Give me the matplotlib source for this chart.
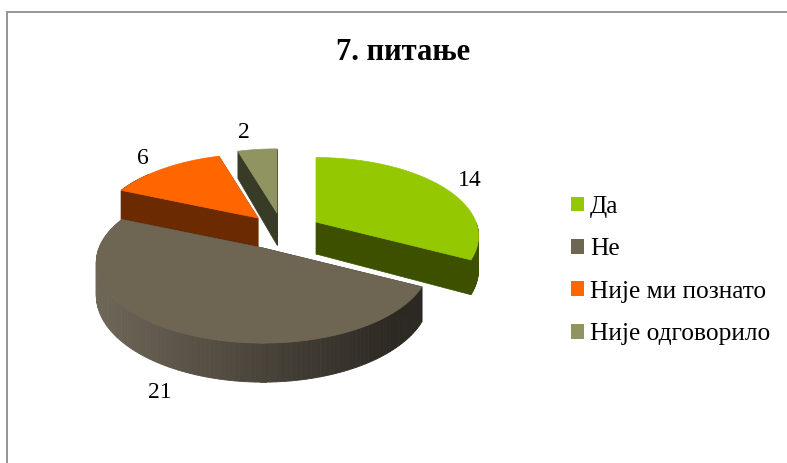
import numpy as np
import matplotlib
matplotlib.use('Agg')
import matplotlib.pyplot as plt
from matplotlib.patches import Polygon, Patch

TITLE = '7. питање'
categories = ['Да', 'Не', 'Није ми познато', 'Није одговорило']
values = [14, 21, 6, 2]
top_colors = ['#94c800', '#6f6553', '#ff6600', '#8f9460']
wall_colors = ['#3d5000', '#2f2a24', '#6b2a00', '#383c26']

plt.rcParams['font.family'] = ['Liberation Serif', 'DejaVu Serif']

W, H = 787, 463
R = 164.0
FLAT = 78.0   # vertical radius of the pie before perspective
PERSP = 0.18
DEPTH = 32.0

# where each slice's point lands in the picture (slices are pulled apart)
apex = [(316, 222), (263, 248), (258, 218), (277, 213)]
scale = [0.975, 1.0, 0.97, 0.97]

fig = plt.figure(figsize=(W / 100, H / 100), dpi=100)
ax = fig.add_axes([0, 0, 1, 1])
ax.set_xlim(0, W)
ax.set_ylim(H, 0)
ax.axis('off')


def rim(t, cx, cy, k):
    # t in degrees, clockwise from the far side of the pie
    s, c = np.sin(np.radians(t)), np.cos(np.radians(t))
    p = 1 / (1 + PERSP * c)
    return cx + k * R * s * p, cy - k * FLAT * c * p, DEPTH * p


def shade(a, b, t):
    a = np.array(matplotlib.colors.to_rgb(a))
    b = np.array(matplotlib.colors.to_rgb(b))
    return a + (b - a) * t


edges = np.concatenate([[0], np.cumsum(values)]) / sum(values) * 360


def draw_slice(i):
    t0, t1 = edges[i], edges[i + 1]
    cx, cy = apex[i]
    ts = np.linspace(t0, t1, 120)
    xs, ys, ds = rim(ts, cx, cy, scale[i])

    # cut faces
    for k in (0, -1):
        ax.add_patch(Polygon([(cx, cy), (xs[k], ys[k]), (xs[k], ys[k] + ds[k]),
                              (cx, cy + DEPTH)],
                             fc=wall_colors[i], ec=wall_colors[i], lw=0.5))

    # outer wall, the big slice gets a left-right gradient
    for j in range(len(ts) - 1):
        if not 90 <= ts[j] <= 310:
            continue
        col = wall_colors[i]
        if i == 1:
            col = shade('#6e6658', '#2c2822', np.clip((xs[j] - 97) / 300, 0, 1))
        ax.add_patch(Polygon([(xs[j], ys[j]), (xs[j + 1], ys[j + 1]),
                              (xs[j + 1], ys[j + 1] + ds[j + 1]),
                              (xs[j], ys[j] + ds[j])],
                             fc=col, ec=col, lw=0.6))

    # top face
    pts = [(cx, cy)] + list(zip(xs, ys))
    ax.add_patch(Polygon(pts, fc=top_colors[i], ec=top_colors[i], lw=0.5))


for i in [3, 2, 0, 1]:
    draw_slice(i)

# chart frame, only top and left are inside the crop
ax.plot([6.5, 6.5, W], [H, 11.5, 11.5], color='#8c8c8c', lw=1.3,
        solid_joinstyle='miter')

ax.text(403, 53, TITLE, ha='center', va='center', fontsize=22,
        fontweight='bold', color='black')

label_pos = [(470, 181), (160, 393), (143, 158), (244, 132)]
for v, (lx, ly) in zip(values, label_pos):
    ax.text(lx, ly, str(v), ha='center', va='center', fontsize=17, color='black')

handles = [Patch(fc=c, ec='none') for c in top_colors]
fs = 18.3
px = 72 / 100 / fs   # one pixel in font-size units
ax.legend(handles, categories, loc='upper left', bbox_to_anchor=(571, 196),
          bbox_transform=ax.transData, frameon=False, fontsize=fs,
          borderpad=0, borderaxespad=0, handlelength=13 * px, handleheight=13 * px,
          handletextpad=6 * px, labelspacing=20.4 * px)

fig.savefig('out.png', dpi=100)
